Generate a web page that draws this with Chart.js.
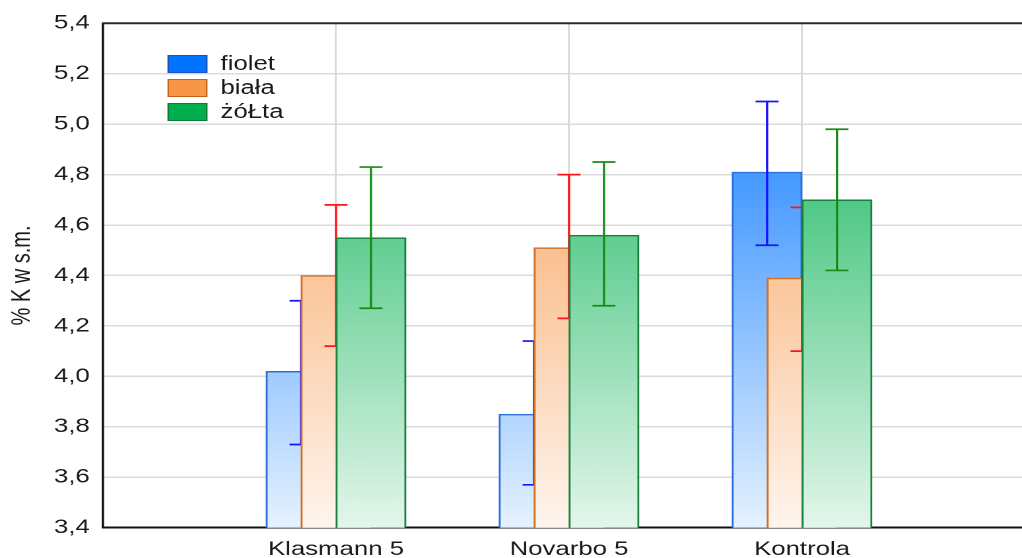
<!DOCTYPE html>
<html>
<head>
<meta charset="utf-8">
<script src="https://cdn.jsdelivr.net/npm/chart.js@4.4.1/dist/chart.umd.min.js"></script>
<style>
  html, body { margin: 0; padding: 0; background: #fff; overflow: hidden; }
  /* the original picture is stretched sideways, so draw narrow and stretch */
  #wrap {
    position: relative;
    width: 774px;
    height: 558px;
    transform: scaleX(1.3204);
    transform-origin: 0 0;
  }
  #legend {
    position: absolute;
    left: 126.5px;
    top: 51.5px;
    font-family: Arial, "Liberation Sans", sans-serif;
    font-size: 19.5px;
    color: #1a1a1a;
  }
  .legend-row { display: flex; align-items: center; height: 24px; }
  .legend-box { width: 28px; height: 16px; border: 1.5px solid; margin-right: 10.5px; }
</style>
</head>
<body>
<div id="wrap">
  <canvas id="chart"></canvas>
  <div id="legend"></div>
</div>
<script>
const categories = ['Klasmann 5', 'Novarbo 5', 'Kontrola'];
const seriesNames = ['fiolet', 'biała', 'żóŁta'];

const fioletMean = [4.02, 3.85, 4.81];
const fioletLow = [3.73, 3.57, 4.52];
const fioletHigh = [4.30, 4.14, 5.09];

const bialaMean = [4.40, 4.51, 4.39];
const bialaLow = [4.12, 4.23, 4.10];
const bialaHigh = [4.68, 4.80, 4.67];

const zoltaMean = [4.55, 4.56, 4.70];
const zoltaLow = [4.27, 4.28, 4.42];
const zoltaHigh = [4.83, 4.85, 4.98];

const yMin = 3.4;
const yMax = 5.4;
const yStep = 0.2;

// styles
const FONT = 'Arial, "Liberation Sans", sans-serif';
const topColors = ['#0073ff', '#f79646', '#00b050'];
const bottomColors = ['#e6f2ff', '#fff5ee', '#e4f6eb'];
const borderColors = ['#2f6fdc', '#cf7028', '#17803b'];
const legendBorders = ['#1552c4', '#c2621c', '#0a7a35'];
const errColors = ['#1414ff', '#ff1414', '#168c16'];
const groupShift = 0.15;   // bars overlap by half their width
const barWidth = 53;
const capHalf = 8.7;

const means = [fioletMean, bialaMean, zoltaMean];
const lows = [fioletLow, bialaLow, zoltaLow];
const highs = [fioletHigh, bialaHigh, zoltaHigh];

// same gradient for every bar of a series, fixed to the plot area
function gradientFor(k) {
  return (context) => {
    const { chart } = context;
    const area = chart.chartArea;
    if (!area) return topColors[k];
    const g = chart.ctx.createLinearGradient(0, area.top, 0, area.bottom);
    g.addColorStop(0, topColors[k]);
    g.addColorStop(1, bottomColors[k]);
    return g;
  };
}

const datasets = seriesNames.map((name, k) => ({
  label: name,
  data: categories.map((c, i) => ({ x: i + 1 + (k - 1) * groupShift, y: means[k][i] })),
  backgroundColor: gradientFor(k),
  borderColor: borderColors[k],
  borderWidth: 1.5,
  borderSkipped: 'start',
  barThickness: barWidth,
  grouped: false,
  order: 3 - k   // later series lie on top
}));

const errorBars = {
  id: 'errorBars',
  afterDatasetDraw(chart, args) {
    const k = args.index;
    const y = chart.scales.y;
    const ctx = chart.ctx;
    ctx.save();
    ctx.strokeStyle = errColors[k];
    ctx.lineWidth = 1.7;
    args.meta.data.forEach((bar, i) => {
      const yl = y.getPixelForValue(lows[k][i]);
      const yh = y.getPixelForValue(highs[k][i]);
      ctx.beginPath();
      ctx.moveTo(bar.x, yl); ctx.lineTo(bar.x, yh);
      ctx.moveTo(bar.x - capHalf, yl); ctx.lineTo(bar.x + capHalf, yl);
      ctx.moveTo(bar.x - capHalf, yh); ctx.lineTo(bar.x + capHalf, yh);
      ctx.stroke();
    });
    ctx.restore();
  }
};

const topFrame = {
  id: 'topFrame',
  afterDraw(chart) {
    const { ctx, chartArea } = chart;
    ctx.save();
    ctx.strokeStyle = '#2a2a2a';
    ctx.lineWidth = 2;
    ctx.beginPath();
    ctx.moveTo(chartArea.left, chartArea.top);
    ctx.lineTo(chartArea.right, chartArea.top);
    ctx.stroke();
    ctx.restore();
  }
};

new Chart(document.getElementById('chart'), {
  type: 'bar',
  data: { datasets },
  plugins: [errorBars, topFrame],
  options: {
    responsive: true,
    maintainAspectRatio: false,
    animation: false,
    devicePixelRatio: 2,
    layout: { padding: { top: 23.3, left: 0, right: 0, bottom: 0 } },
    plugins: { legend: { display: false }, tooltip: { enabled: false } },
    scales: {
      x: {
        type: 'linear',
        min: 0,
        max: 3.944,
        offset: false,
        afterBuildTicks: (s) => { s.ticks = categories.map((c, i) => ({ value: i + 1 })); },
        afterFit: (s) => { s.height = 30.3; },
        ticks: {
          autoSkip: false,
          maxRotation: 0,
          padding: 10,
          color: '#1a1a1a',
          font: { family: FONT, size: 19.5 },
          callback: (v) => categories[v - 1]
        },
        grid: { color: '#dadada', lineWidth: 1.5, drawTicks: false, offset: false },
        border: { color: '#111', width: 2 }
      },
      y: {
        min: yMin,
        max: yMax,
        afterFit: (s) => { s.width = 78; },
        ticks: {
          stepSize: yStep,
          padding: 10,
          color: '#1a1a1a',
          font: { family: FONT, size: 19.5 },
          callback: (v) => v.toFixed(1).replace('.', ',')
        },
        grid: { color: '#dadada', lineWidth: 1.5, drawTicks: false },
        border: { color: '#111', width: 1.8 },
        title: {
          display: true,
          text: '% K w s.m.',
          color: '#1a1a1a',
          font: { family: FONT, size: 20 },
          padding: { top: 5, bottom: 0 }
        }
      }
    }
  }
});

// legend sits inside the plot, top left
const legend = document.getElementById('legend');
seriesNames.forEach((name, k) => {
  const row = document.createElement('div');
  row.className = 'legend-row';
  const box = document.createElement('div');
  box.className = 'legend-box';
  box.style.background = topColors[k];
  box.style.borderColor = legendBorders[k];
  const txt = document.createElement('span');
  txt.textContent = name;
  row.appendChild(box);
  row.appendChild(txt);
  legend.appendChild(row);
});
</script>
</body>
</html>
